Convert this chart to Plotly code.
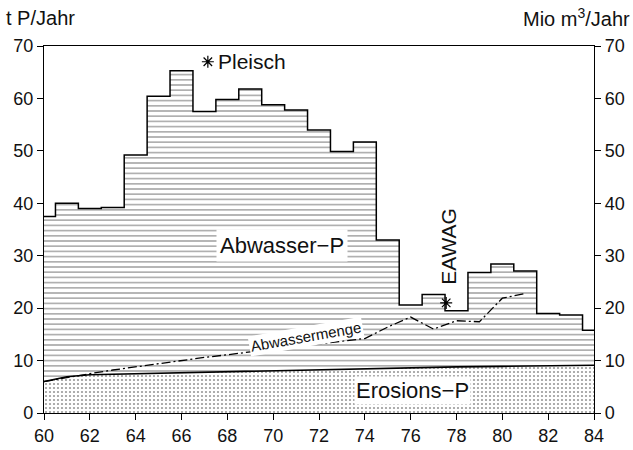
import plotly.graph_objects as go

# Years (centre of each annual step)
years = list(range(60, 85))
# Abwasser-P total (t P/Jahr), step heights
abwasser_p = [37.5, 40.0, 39.0, 39.2, 49.2, 60.4, 65.3, 57.5, 59.8, 61.8,
              58.8, 57.8, 54.0, 49.9, 51.7, 33.0, 20.6, 22.6, 19.5, 26.8,
              28.4, 27.1, 19.0, 18.7, 15.8]

# Erosions-P (t P/Jahr)
erosion_years = [60, 61, 62, 64, 66, 68, 70, 72, 74, 76, 78, 80, 82, 84]
erosion_p = [6.0, 6.9, 7.3, 7.5, 7.7, 7.9, 8.1, 8.3, 8.5, 8.7, 8.8, 8.9, 9.0, 9.1]

# Abwassermenge (Mio m3/Jahr)
menge_years = list(range(60, 82))
abwassermenge = [6.0, 6.8, 7.5, 8.2, 8.8, 9.5, 10.1, 10.6, 11.1, 11.7, 12.2,
                 12.7, 13.2, 13.7, 14.2, 16.4, 18.3, 16.0, 17.6, 17.4, 21.9, 22.8]

# Single measurements
pleisch_x, pleisch_y = [67.15], [67.0]
eawag_x, eawag_y = [77.55], [21.0]

x_ticks = list(range(60, 85, 2))
y_ticks = list(range(0, 71, 10))

FONT = "Liberation Sans, Arial, sans-serif"

fig = go.Figure()

fig.add_trace(go.Scatter(
    x=years, y=abwasser_p, mode="lines", line=dict(shape="hvh", color="black", width=1.5),
    fill="tozeroy", fillcolor="white",
    fillpattern=dict(shape="-", size=5.2, solidity=0.24, fgcolor="#222", bgcolor="white"),
    showlegend=False, hoverinfo="skip"))

fig.add_trace(go.Scatter(
    x=erosion_years, y=erosion_p, mode="lines", line=dict(color="black", width=1.6),
    fill="tozeroy", fillcolor="white",
    fillpattern=dict(shape=".", size=4, solidity=0.24, fgcolor="#333", bgcolor="white"),
    showlegend=False, hoverinfo="skip"))

fig.add_trace(go.Scatter(
    x=menge_years, y=abwassermenge, mode="lines", yaxis="y2",
    line=dict(color="black", width=1.3, dash="9px,3px,2px,3px"),
    showlegend=False, hoverinfo="skip"))

fig.add_trace(go.Scatter(
    x=pleisch_x + eawag_x, y=pleisch_y + eawag_y, mode="markers",
    marker=dict(symbol="asterisk-open", size=10, color="black",
                line=dict(color="black", width=1.2)),
    showlegend=False, hoverinfo="skip"))

ann = [
    dict(x=67.5, y=67.0, text="Pleisch", xanchor="left", yanchor="middle",
         showarrow=False, font=dict(size=21)),
    dict(x=70.4, y=32.0, text="Abwasser\u2212P", showarrow=False, bgcolor="white",
         borderpad=3, font=dict(size=22)),
    dict(x=76.1, y=4.2, text="Erosions\u2212P", showarrow=False, bgcolor="white",
         borderpad=1, font=dict(size=22)),
    dict(x=71.45, y=14.6, text="Abwassermenge", showarrow=False, bgcolor="white",
         textangle=-10, borderpad=1, font=dict(size=15)),
    dict(x=77.65, y=31.8, text="EAWAG", showarrow=False, textangle=-90,
         font=dict(size=21)),
    dict(x=0, y=1, xref="paper", yref="paper", xshift=-40, yshift=28, text="t P/Jahr",
         xanchor="left", yanchor="middle", showarrow=False, font=dict(size=20)),
    dict(x=1, y=1, xref="paper", yref="paper", xshift=38, yshift=29,
         text="Mio m<sup>3</sup>/Jahr", xanchor="right", yanchor="middle",
         showarrow=False, font=dict(size=20)),
]

axis_common = dict(showgrid=False, zeroline=False, showline=True, linecolor="black",
                   linewidth=1.3, ticks="outside", ticklen=6, tickwidth=1.2,
                   tickcolor="black", tickfont=dict(size=18), automargin=False)

fig.update_layout(
    width=633, height=450, autosize=False,
    margin=dict(l=44, r=39, t=46, b=37, autoexpand=False),
    paper_bgcolor="white", plot_bgcolor="white",
    font=dict(family=FONT, color="#111"),
    xaxis=dict(range=[60, 84], tickvals=x_ticks, mirror=True, **axis_common),
    yaxis=dict(range=[0, 70], tickvals=y_ticks, **axis_common),
    yaxis2=dict(range=[0, 70], tickvals=y_ticks, overlaying="y", side="right",
                **axis_common),
    annotations=ann,
)

fig.write_html("out.html", config={"displayModeBar": False},
               post_script="document.body.style.margin='0';document.body.style.overflow='hidden';")
